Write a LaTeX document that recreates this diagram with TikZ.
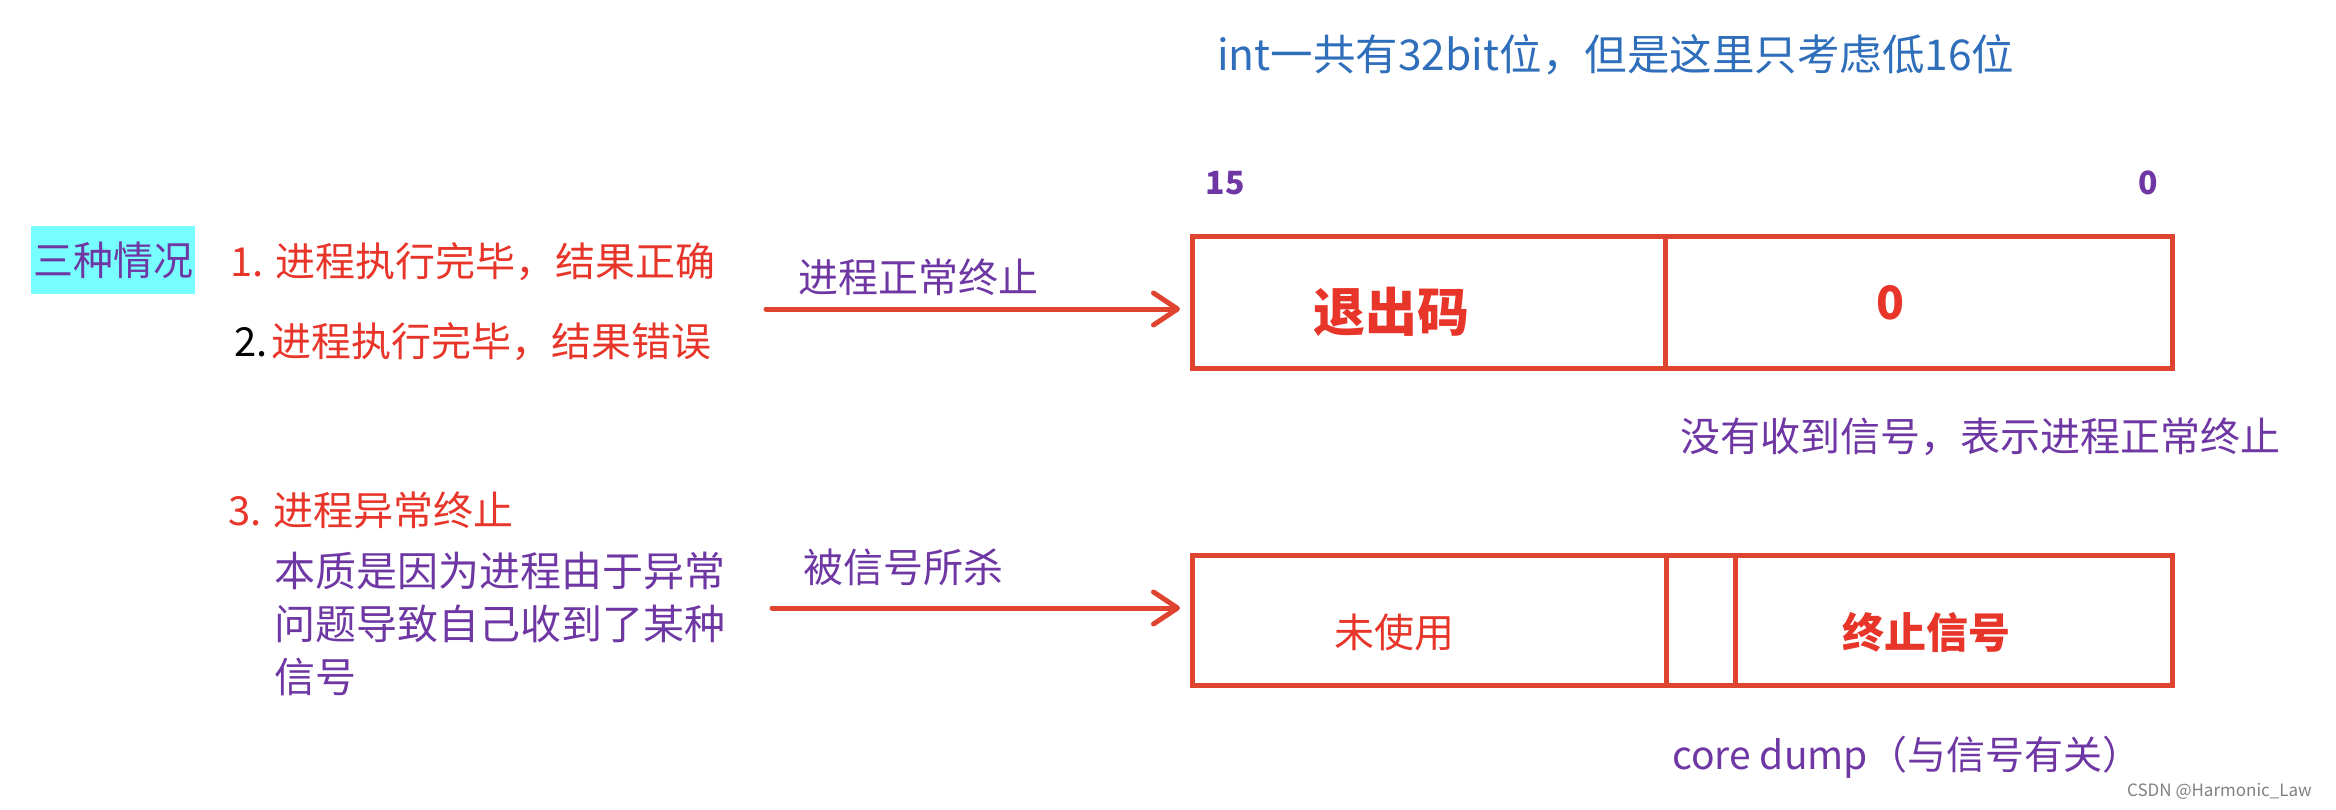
\documentclass[tikz,border=0pt]{standalone}
\usepackage{fontspec}
\setmainfont{Noto Sans CJK SC}
\usetikzlibrary{arrows.meta}
\definecolor{boxred}{HTML}{DF4431}
\definecolor{txtred}{HTML}{E8352A}
\definecolor{purp}{HTML}{6E37A3}
\definecolor{titleblue}{HTML}{2F6EBA}
\definecolor{cyanbg}{HTML}{77FFFF}
\begin{document}
\begin{tikzpicture}[x=1pt,y=-1pt,
  txt/.style={inner sep=0pt, font=\fontsize{40}{48}\selectfont},
  cell/.style={draw=boxred, line width=5pt, minimum height=131pt, inner sep=0pt, outer sep=0pt, anchor=west},
  arr/.style={draw=boxred, line width=5pt, line cap=round, line join=round,
    -{Straight Barb[length=24pt,width=32pt,line width=5pt,round]}, shorten >=12pt}]
\useasboundingbox (0,0) rectangle (2336,810);

% title
\node[txt, anchor=west, text=titleblue, font=\fontsize{42.5}{50}\selectfont] (title) at (1217,55) {int一共有32bit位，但是这里只考虑低16位};

% left column
\node[txt, fill=cyanbg, text=purp, minimum width=164pt, minimum height=67pt] (cases) at (113,260) {三种情况};
\node[txt, anchor=west, text=txtred] (c1) at (230,262) {1. 进程执行完毕，结果正确};
\node[txt, anchor=west, text=txtred] (c2) at (234,342) {\textcolor{black}{2.}\hspace{4pt}进程执行完毕，结果错误};
\node[txt, anchor=west, text=txtred] (c3) at (228,510) {3. 进程异常终止};
\node[txt, anchor=west, text=purp, align=left, font=\fontsize{41}{53}\selectfont] (c3d) at (274,624)
  {本质是因为进程由于异常\\问题导致自己收到了某种\\信号};

% bit labels
\node[txt, text=purp, font=\fontsize{32}{38}\selectfont\bfseries] (b15) at (1225,183) {15};
\node[txt, text=purp, font=\fontsize{32}{38}\selectfont\bfseries] (b0) at (2148,183) {0};

% box 1
\node[cell, minimum width=473pt] (exitcode) at (1192,302.5) {};
\node[cell, minimum width=507pt] (lowbits) at (exitcode.east) {};
\node[txt, text=txtred, font=\fontsize{52}{60}\selectfont\bfseries] (exittxt) at (1391,312) {退出码};
\node[txt, text=txtred, font=\fontsize{46}{54}\selectfont\bfseries] (zerotxt) at (1890,303) {0};

\node[txt, anchor=west, text=purp] (nosig) at (1680,437) {没有收到信号，表示进程正常终止};

% box 2
\node[cell, minimum width=474pt, minimum height=130pt] (unused) at (1192,620) {};
\node[cell, minimum width=69pt, minimum height=130pt] (core) at (unused.east) {};
\node[cell, minimum width=437pt, minimum height=130pt] (sig) at (core.east) {};
\node[txt, text=txtred] (unusedtxt) at (1394,632) {未使用};
\node[txt, text=txtred, font=\fontsize{42}{50}\selectfont\bfseries] (sigtxt) at (1926,632) {终止信号};

\node[txt, anchor=west, text=purp, font=\fontsize{39}{46}\selectfont] (coredump) at (1672,757) {core dump（与信号有关）};

% arrows
\coordinate (s1) at (766,309);
\draw[arr] (s1) -- (s1 -| exitcode.west);
\node[txt, anchor=west, text=purp] (l1) at (798,277) {进程正常终止};
\coordinate (s2) at (772,608);
\draw[arr] (s2) -- (s2 -| unused.west);
\node[txt, anchor=west, text=purp] (l2) at (803,567) {被信号所杀};

% watermark
\node[inner sep=0pt, anchor=east, text=gray, font=\fontsize{17}{20}\selectfont] (wm) at (2312,791) {CSDN @Harmonic\_Law};
\end{tikzpicture}
\end{document}
